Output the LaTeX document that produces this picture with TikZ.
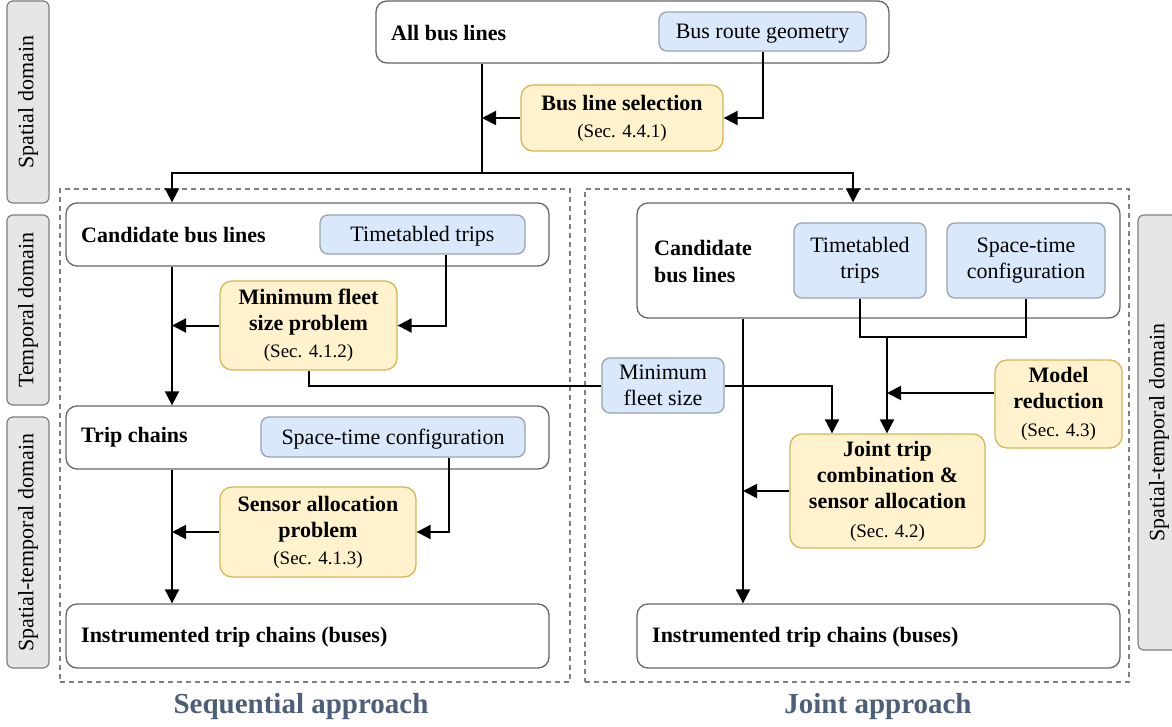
\documentclass[tikz,border=0pt]{standalone}
\usepackage{fontspec}
\setmainfont{Liberation Serif}
\usetikzlibrary{arrows.meta,positioning}
\definecolor{domfill}{HTML}{E6E6E6}
\definecolor{domline}{HTML}{7F7F7F}
\definecolor{boxline}{HTML}{666666}
\definecolor{bluefill}{HTML}{DAE8FC}
\definecolor{blueline}{HTML}{9AA3AD}
\definecolor{yelfill}{HTML}{FFF2CC}
\definecolor{yelline}{HTML}{D6B656}
\definecolor{titlecol}{HTML}{4D5E78}
\definecolor{dashcol}{HTML}{808080}
\tikzset{
  x=1pt,y=-1pt,
  mainfont/.style={font=\fontsize{22}{26}\selectfont},
  domainbox/.style={draw=domline,fill=domfill,line width=1.2pt,rounded corners=6pt,rotate=90,inner sep=0pt,mainfont},
  whitebox/.style={draw=boxline,fill=white,line width=1.3pt,rounded corners=11pt,inner sep=0pt},
  bluebox/.style={draw=blueline,fill=bluefill,line width=1.3pt,rounded corners=8pt,inner sep=0pt,align=center,mainfont},
  oneline/.style={text depth=1pt},
  yelbox/.style={draw=yelline,fill=yelfill,line width=1.3pt,rounded corners=12pt,inner sep=0pt,align=center,mainfont},
  boxlabel/.style={anchor=west,inner sep=0pt,align=left,font=\fontsize{22}{27}\selectfont\bfseries},
  container/.style={draw=dashcol,line width=1.2pt,dash pattern=on 5pt off 4pt},
  conn/.style={line width=2pt,draw=black},
  arr/.style={conn,-{Triangle[length=14pt,width=14pt]}},
  titletext/.style={font=\fontsize{29}{32}\selectfont\bfseries,text=titlecol,inner sep=0pt},
}
\newcommand{\secref}[1]{{\fontsize{19}{22}\selectfont\mdseries #1}}
\begin{document}
\begin{tikzpicture}
\useasboundingbox (0,0) rectangle (1172,727);
\clip (0,0) rectangle (1172,727);

% dashed containers
\node[container,minimum width=510pt,minimum height=493pt,inner sep=0pt] (seqc) at (315,435.5) {};
\node[container,minimum width=544pt,minimum height=493pt,inner sep=0pt] (jointc) at (857,435.5) {};

% domain labels
\node[domainbox,minimum width=202pt,minimum height=42pt] (dom1) at (28,102) {Spatial domain};
\node[domainbox,minimum width=190pt,minimum height=42pt] (dom2) at (28,310) {Temporal domain};
\node[domainbox,minimum width=251pt,minimum height=42pt] (dom3) at (28,542.5) {Spatial-temporal domain};
\node[domainbox,minimum width=435pt,minimum height=42pt] (dom4) at (1159,432.5) {Spatial-temporal domain};

% top
\node[whitebox,minimum width=513pt,minimum height=62pt] (allbus) at (632.5,32) {};
\node[boxlabel] (allbusl) at (391,33) {All bus lines};
\node[bluebox,oneline,minimum width=207pt,minimum height=39pt] (brg) at (762.5,31.5) {Bus route geometry};
\node[yelbox,minimum width=202pt,minimum height=66pt] (bls) at (622,118) {\textbf{Bus line selection}\\[1pt]\secref{(Sec. 4.4.1)}};

% sequential
\node[whitebox,minimum width=483pt,minimum height=63pt] (cand1) at (307.5,234.5) {};
\node[boxlabel] (cand1l) at (81,235) {Candidate bus lines};
\node[bluebox,oneline,minimum width=205pt,minimum height=39pt] (tt1) at (422.5,234.5) {Timetabled trips};
\node[yelbox,minimum width=177pt,minimum height=89pt] (mfs) at (308.5,325.5) {\textbf{Minimum fleet}\\\textbf{size problem}\\[1pt]\secref{(Sec. 4.1.2)}};
\node[whitebox,minimum width=483pt,minimum height=63pt] (trip) at (307.5,437.5) {};
\node[boxlabel] (tripl) at (81,437) {Trip chains};
\node[bluebox,oneline,minimum width=264pt,minimum height=40pt] (stc1) at (393,437) {Space-time configuration};
\node[yelbox,minimum width=196pt,minimum height=90pt] (sap) at (318,532) {\textbf{Sensor allocation}\\\textbf{problem}\\[1pt]\secref{(Sec. 4.1.3)}};
\node[whitebox,minimum width=483pt,minimum height=64pt] (inst1) at (307.5,636) {};
\node[boxlabel] (inst1l) at (81,637) {Instrumented trip chains (buses)};

% joint
\node[whitebox,minimum width=483pt,minimum height=115pt] (cand2) at (878.5,260.5) {};
\node[boxlabel] (cand2l) at (654,261.5) {Candidate\\bus lines};
\node[bluebox,minimum width=132pt,minimum height=75pt] (tt2) at (860,260.5) {Timetabled\\trips};
\node[bluebox,minimum width=158pt,minimum height=75pt] (stc2) at (1026,260.5) {Space-time\\configuration};
\node[bluebox,minimum width=122pt,minimum height=55pt] (mfsz) at (663,385.5) {Minimum\\fleet size};
\node[yelbox,minimum width=127pt,minimum height=88pt] (mr) at (1058.5,404) {\textbf{Model}\\\textbf{reduction}\\[2pt]\secref{(Sec. 4.3)}};
\node[yelbox,minimum width=195pt,minimum height=114pt] (joint) at (887.5,491) {\textbf{Joint trip}\\\textbf{combination \&}\\\textbf{sensor allocation}\\[3pt]\secref{(Sec. 4.2)}};
\node[whitebox,minimum width=483pt,minimum height=64pt] (inst2) at (878.5,636) {};
\node[boxlabel] (inst2l) at (652,637) {Instrumented trip chains (buses)};

% titles
\node[titletext] (seqt) at (301,707) {Sequential approach};
\node[titletext] (jointt) at (878,707) {Joint approach};

% helper coordinates
\coordinate (j1) at (482,173);
\coordinate (cL) at (172,0);
\coordinate (cR) at (853,0);
\coordinate (c446) at (446,0);
\coordinate (c449) at (449,0);
\coordinate (c832) at (832,0);
\coordinate (c743) at (743,0);
\coordinate (j2) at (887,337);
\coordinate (r393) at (0,393);

% connectors top
\draw[conn] (allbus.south -| j1) -- (j1);
\draw[arr] (j1) -| (cL |- cand1.north);
\draw[arr] (j1) -| (cR |- cand2.north);
\draw[arr] (bls.west) -- (bls.west -| j1);
\draw[arr] (brg.south) |- (bls.east);

% sequential connectors
\draw[arr] (cL |- cand1.south) -- (cL |- trip.north);
\draw[arr] (mfs.west) -- (mfs.west -| cL);
\draw[arr] (c446 |- tt1.south) |- (mfs.east);
\draw[arr] (cL |- trip.south) -- (cL |- inst1.north);
\draw[arr] (sap.west) -- (sap.west -| cL);
\draw[arr] (c449 |- stc1.south) |- (sap.east);

% cross connector
\draw[conn] (mfs.south) |- (mfsz.west);
\draw[arr] (mfsz.east) -| (c832 |- joint.north);

% joint connectors
\draw[conn] (tt2.south) |- (j2) -| (stc2.south);
\draw[arr] (j2) -- (j2 |- joint.north);
\draw[arr] (mr.west |- r393) -- (j2 |- r393);
\draw[arr] (c743 |- cand2.south) -- (c743 |- inst2.north);
\draw[arr] (joint.west) -- (joint.west -| c743);
\end{tikzpicture}
\end{document}
